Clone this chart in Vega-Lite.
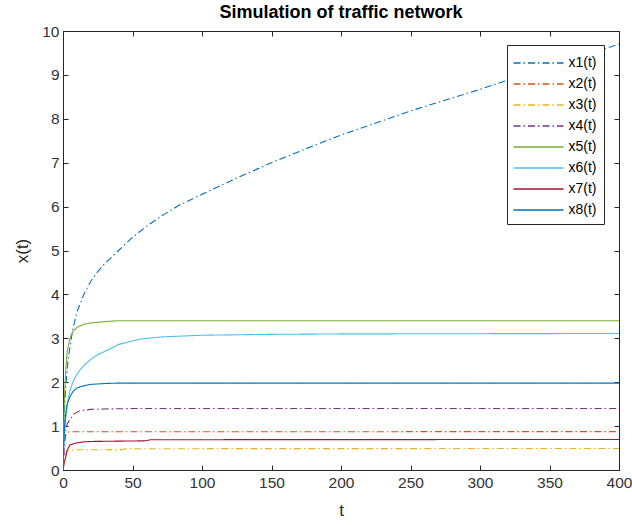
{
  "$schema": "https://vega.github.io/schema/vega-lite/v6.json",
  "width": 556,
  "height": 439,
  "autosize": {"type": "none"},
  "padding": {"left": 63, "top": 31, "right": 13, "bottom": 55},
  "background": "white",
  "title": {"text": "Simulation of traffic network", "font": "Liberation Sans", "fontSize": 18, "fontWeight": "bold", "color": "#000000", "offset": 2, "anchor": "middle"},
  "config": {
    "view": {"stroke": "#262626", "strokeWidth": 1},
    "axis": {"grid": false, "domainColor": "#262626", "tickColor": "#262626", "labelFont": "Liberation Sans", "labelFontSize": 15.5, "labelColor": "#333333", "labelFlush": false, "titleFont": "Liberation Sans", "titleFontSize": 17, "titleFontWeight": "normal", "titleColor": "#262626", "tickSize": -5}
  },
  "data": {"values": [
    {"s":"x1(t)","t":0,"v":0},{"s":"x1(t)","t":0.5,"v":0.9},{"s":"x1(t)","t":1,"v":1.35},{"s":"x1(t)","t":2,"v":1.9},{"s":"x1(t)","t":3,"v":2.3},{"s":"x1(t)","t":4,"v":2.58},{"s":"x1(t)","t":5,"v":2.8},{"s":"x1(t)","t":7,"v":3.2},{"s":"x1(t)","t":10,"v":3.6},{"s":"x1(t)","t":15,"v":4.0},{"s":"x1(t)","t":20,"v":4.3},{"s":"x1(t)","t":25,"v":4.52},{"s":"x1(t)","t":30,"v":4.7},{"s":"x1(t)","t":40,"v":5.0},{"s":"x1(t)","t":50,"v":5.3},{"s":"x1(t)","t":60,"v":5.55},{"s":"x1(t)","t":70,"v":5.77},{"s":"x1(t)","t":84,"v":6.04},{"s":"x1(t)","t":100,"v":6.28},{"s":"x1(t)","t":125,"v":6.65},{"s":"x1(t)","t":150,"v":7.0},{"s":"x1(t)","t":175,"v":7.32},{"s":"x1(t)","t":200,"v":7.63},{"s":"x1(t)","t":250,"v":8.18},{"s":"x1(t)","t":300,"v":8.67},{"s":"x1(t)","t":350,"v":9.2},{"s":"x1(t)","t":400,"v":9.7},
    {"s":"x2(t)","t":0,"v":0},{"s":"x2(t)","t":1,"v":0.6},{"s":"x2(t)","t":2,"v":0.8},{"s":"x2(t)","t":3,"v":0.86},{"s":"x2(t)","t":5,"v":0.87},{"s":"x2(t)","t":400,"v":0.875},
    {"s":"x3(t)","t":0,"v":0},{"s":"x3(t)","t":1,"v":0.25},{"s":"x3(t)","t":2,"v":0.38},{"s":"x3(t)","t":3,"v":0.43},{"s":"x3(t)","t":5,"v":0.45},{"s":"x3(t)","t":10,"v":0.46},{"s":"x3(t)","t":42,"v":0.465},{"s":"x3(t)","t":45,"v":0.485},{"s":"x3(t)","t":400,"v":0.49},
    {"s":"x4(t)","t":0,"v":0},{"s":"x4(t)","t":1,"v":0.6},{"s":"x4(t)","t":2,"v":0.9},{"s":"x4(t)","t":3,"v":1.05},{"s":"x4(t)","t":5,"v":1.15},{"s":"x4(t)","t":8,"v":1.28},{"s":"x4(t)","t":12,"v":1.35},{"s":"x4(t)","t":20,"v":1.38},{"s":"x4(t)","t":30,"v":1.39},{"s":"x4(t)","t":50,"v":1.4},{"s":"x4(t)","t":400,"v":1.4},
    {"s":"x5(t)","t":0,"v":0},{"s":"x5(t)","t":0.5,"v":0.9},{"s":"x5(t)","t":1,"v":1.6},{"s":"x5(t)","t":2,"v":2.3},{"s":"x5(t)","t":3,"v":2.7},{"s":"x5(t)","t":5,"v":3.0},{"s":"x5(t)","t":7,"v":3.15},{"s":"x5(t)","t":10,"v":3.25},{"s":"x5(t)","t":15,"v":3.32},{"s":"x5(t)","t":20,"v":3.35},{"s":"x5(t)","t":30,"v":3.38},{"s":"x5(t)","t":40,"v":3.4},{"s":"x5(t)","t":400,"v":3.4},
    {"s":"x6(t)","t":0,"v":0},{"s":"x6(t)","t":1,"v":0.8},{"s":"x6(t)","t":2,"v":1.2},{"s":"x6(t)","t":3.6,"v":1.6},{"s":"x6(t)","t":5,"v":1.8},{"s":"x6(t)","t":7,"v":2.0},{"s":"x6(t)","t":10,"v":2.18},{"s":"x6(t)","t":14,"v":2.35},{"s":"x6(t)","t":20,"v":2.52},{"s":"x6(t)","t":25,"v":2.63},{"s":"x6(t)","t":32,"v":2.73},{"s":"x6(t)","t":40,"v":2.86},{"s":"x6(t)","t":55,"v":2.98},{"s":"x6(t)","t":70,"v":3.03},{"s":"x6(t)","t":100,"v":3.07},{"s":"x6(t)","t":150,"v":3.09},{"s":"x6(t)","t":200,"v":3.1},{"s":"x6(t)","t":400,"v":3.11},
    {"s":"x7(t)","t":0,"v":0},{"s":"x7(t)","t":1,"v":0.18},{"s":"x7(t)","t":1.5,"v":0.23},{"s":"x7(t)","t":3,"v":0.45},{"s":"x7(t)","t":5,"v":0.57},{"s":"x7(t)","t":10,"v":0.62},{"s":"x7(t)","t":15,"v":0.64},{"s":"x7(t)","t":20,"v":0.65},{"s":"x7(t)","t":60,"v":0.665},{"s":"x7(t)","t":63,"v":0.69},{"s":"x7(t)","t":400,"v":0.695},
    {"s":"x8(t)","t":0,"v":0},{"s":"x8(t)","t":0.5,"v":0.6},{"s":"x8(t)","t":1,"v":0.95},{"s":"x8(t)","t":2,"v":1.3},{"s":"x8(t)","t":3,"v":1.5},{"s":"x8(t)","t":5,"v":1.67},{"s":"x8(t)","t":7,"v":1.78},{"s":"x8(t)","t":10,"v":1.87},{"s":"x8(t)","t":15,"v":1.92},{"s":"x8(t)","t":20,"v":1.95},{"s":"x8(t)","t":30,"v":1.97},{"s":"x8(t)","t":40,"v":1.98},{"s":"x8(t)","t":400,"v":1.98}
  ]},
  "layer": [
    {
      "mark": {"type": "line", "strokeWidth": 1.1, "clip": true},
      "encoding": {
        "x": {"field": "t", "type": "quantitative", "scale": {"domain": [0, 400], "nice": false}, "axis": {"title": "t", "values": [0,50,100,150,200,250,300,350,400], "labelPadding": 10, "titlePadding": 12}},
        "y": {"field": "v", "type": "quantitative", "scale": {"domain": [0, 10], "nice": false}, "axis": {"title": "x(t)", "values": [0,1,2,3,4,5,6,7,8,9,10], "labelPadding": 9, "titlePadding": 10}},
        "color": {"field": "s", "type": "nominal", "scale": {"domain": ["x1(t)","x2(t)","x3(t)","x4(t)","x5(t)","x6(t)","x7(t)","x8(t)"], "range": ["#0072BD","#D95319","#EDB120","#7E2F8E","#77AC30","#4DBEEE","#A2142F","#0072BD"]},
          "legend": {"title": null, "orient": "none", "legendX": 444, "legendY": 14, "symbolType": "M-2.5,0H2.5", "symbolSize": 400, "symbolOffset": 13.5, "symbolStrokeWidth": 1.5, "labelFont": "Liberation Sans", "labelFontSize": 14, "labelColor": "#000000", "strokeColor": "#262626", "fillColor": "white", "padding": 7, "rowPadding": 3, "labelOffset": 19}},
        "strokeDash": {"field": "s", "type": "nominal", "scale": {"domain": ["x1(t)","x2(t)","x3(t)","x4(t)","x5(t)","x6(t)","x7(t)","x8(t)"], "range": [[7,3,1.5,3],[7,3,1.5,3],[7,3,1.5,3],[7,3,1.5,3],[1,0],[1,0],[1,0],[1,0]]}, "legend": {"title": null, "orient": "none", "legendX": 444, "legendY": 14, "symbolType": "M-2.5,0H2.5", "symbolSize": 400, "symbolOffset": 13.5, "symbolStrokeWidth": 1.5, "labelFont": "Liberation Sans", "labelFontSize": 14, "labelColor": "#000000", "strokeColor": "#262626", "fillColor": "white", "padding": 7, "rowPadding": 3, "labelOffset": 19}}
      }
    },
    {
      "mark": {"type": "line", "opacity": 0},
      "encoding": {
        "x": {"field": "t", "type": "quantitative", "axis": {"orient": "top", "labels": false, "title": null, "values": [0,50,100,150,200,250,300,350,400]}},
        "y": {"field": "v", "type": "quantitative", "axis": {"orient": "right", "labels": false, "title": null, "values": [0,1,2,3,4,5,6,7,8,9,10]}}
      }
    }
  ],
  "resolve": {"axis": {"x": "independent", "y": "independent"}}
}
